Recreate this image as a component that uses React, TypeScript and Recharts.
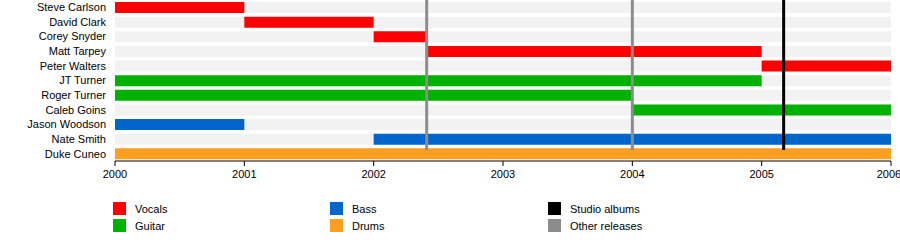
import React from 'react';
import { BarChart, Bar, Cell, XAxis, YAxis, ReferenceLine } from 'recharts';

// band members, top to bottom
const members = [
    'Steve Carlson',
    'David Clark',
    'Corey Snyder',
    'Matt Tarpey',
    'Peter Walters',
    'JT Turner',
    'Roger Turner',
    'Caleb Goins',
    'Jason Woodson',
    'Nate Smith',
    'Duke Cuneo',
];
const starts = [2000, 2001, 2002, 2002.41, 2005, 2000, 2000, 2004, 2000, 2002, 2000];
const ends = [2001, 2002, 2002.41, 2005, 2006, 2005, 2004, 2006, 2001, 2006, 2006];
const roles = ['Vocals', 'Vocals', 'Vocals', 'Vocals', 'Vocals', 'Guitar', 'Guitar', 'Guitar', 'Bass', 'Bass', 'Drums'];

const years = [2000, 2001, 2002, 2003, 2004, 2005, 2006];
const studioAlbums = [2005.17];
const otherReleases = [2002.41, 2004];

const roleColors: Record<string, string> = {
    Vocals: '#ff0000',
    Guitar: '#00b200',
    Bass: '#0066cc',
    Drums: '#ff9f22',
};

const legendItems = [
    { label: 'Vocals', color: '#ff0000' },
    { label: 'Guitar', color: '#00b200' },
    { label: 'Bass', color: '#0066cc' },
    { label: 'Drums', color: '#ff9f22' },
    { label: 'Studio albums', color: '#000000' },
    { label: 'Other releases', color: '#8c8c8c' },
];

const rows = members.map((name, i) => ({
    name,
    span: [starts[i], ends[i]],
    role: roles[i],
}));

// vertical release line, stopping above the last row (drawn under Duke's bar in the original)
const releaseLine = (color: string) => (props: any) => {
    const top = Math.min(props.y1, props.y2);
    const bottom = Math.max(props.y1, props.y2);
    return <line x1={props.x1} x2={props.x2} y1={top} y2={bottom - 11} stroke={color} strokeWidth={3} />;
};

const App: React.FC = () => {
    return (
        <div
            style={{
                position: 'absolute',
                left: 0,
                top: 0,
                width: 900,
                height: 250,
                fontFamily: '"Liberation Sans", Arial, sans-serif',
                background: '#fff',
            }}
        >
            <BarChart
                width={900}
                height={250}
                data={rows}
                layout="vertical"
                barSize={11}
                margin={{ top: 0, right: 9, left: 0, bottom: 59 }}
            >
                <XAxis
                    type="number"
                    domain={[2000, 2006]}
                    ticks={years}
                    height={30}
                    stroke="#000"
                    tickSize={5}
                    tickMargin={4}
                    tick={{ fontSize: 11, fill: '#000' }}
                />
                <YAxis
                    type="category"
                    dataKey="name"
                    width={115}
                    axisLine={false}
                    tickLine={false}
                    tickSize={0}
                    tickMargin={9}
                    interval={0}
                    tick={{ fontSize: 11, fill: '#000' }}
                />

                {/* member spans */}
                <Bar dataKey="span" background={{ fill: '#f2f2f2' }} isAnimationActive={false}>
                    {rows.map((r) => (
                        <Cell key={r.name} fill={roleColors[r.role]} />
                    ))}
                </Bar>

                {/* releases */}
                {otherReleases.map((x) => (
                    <ReferenceLine key={'o' + x} x={x} shape={releaseLine('#8c8c8c')} />
                ))}
                {studioAlbums.map((x) => (
                    <ReferenceLine key={'s' + x} x={x} shape={releaseLine('#000')} />
                ))}
            </BarChart>

            {/* legend */}
            {legendItems.map((item, i) => (
                <div
                    key={item.label}
                    style={{
                        position: 'absolute',
                        left: [113, 330, 548][Math.floor(i / 2)],
                        top: 202 + (i % 2) * 17,
                        display: 'flex',
                        alignItems: 'center',
                        fontSize: 11,
                        color: '#000',
                        height: 13,
                    }}
                >
                    <span style={{ display: 'inline-block', width: 13, height: 13, background: item.color }} />
                    <span style={{ marginLeft: 9 }}>{item.label}</span>
                </div>
            ))}
        </div>
    );
};

export default App;
